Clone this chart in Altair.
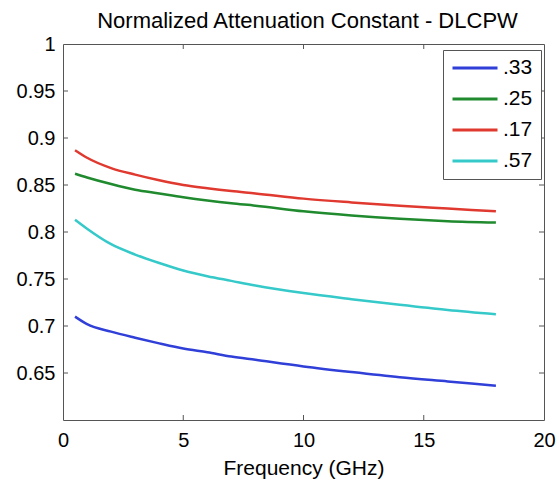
import altair as alt
import pandas as pd

# ---- data ----
freq = [0.5, 1, 2, 3, 4, 5, 6, 7, 8, 10, 12, 14, 16, 18]
s33 = [0.710, 0.702, 0.694, 0.6875, 0.6815, 0.676, 0.672, 0.6675, 0.664, 0.657, 0.651, 0.6455, 0.641, 0.6365]
s25 = [0.862, 0.858, 0.851, 0.845, 0.841, 0.837, 0.8335, 0.8305, 0.828, 0.822, 0.8175, 0.814, 0.8115, 0.810]
s17 = [0.887, 0.879, 0.868, 0.861, 0.855, 0.850, 0.8465, 0.8435, 0.841, 0.8355, 0.8315, 0.828, 0.825, 0.822]
s57 = [0.813, 0.8035, 0.787, 0.776, 0.767, 0.759, 0.753, 0.748, 0.743, 0.735, 0.7285, 0.7225, 0.717, 0.7125]

series_names = [".33", ".25", ".17", ".57"]
series_colors = ["#2f3fd8", "#1f8a2e", "#e0392f", "#35c9c9"]
x_tick_values = [0, 5, 10, 15, 20]
y_tick_values = [0.65, 0.7, 0.75, 0.8, 0.85, 0.9, 0.95, 1]
x_inner_ticks = [5, 10, 15]
y_inner_ticks = [0.65, 0.7, 0.75, 0.8, 0.85, 0.9, 0.95]

rows = []
for name, vals in zip(series_names, [s33, s25, s17, s57]):
    for f, v in zip(freq, vals):
        rows.append({"freq": f, "value": v, "series": name})
df = pd.DataFrame(rows)

W, H = 481, 376
FONT = "Liberation Sans"
TICK = 5
BORDER = "#555555"

xs = alt.Scale(domain=[0, 20], nice=False)
ys = alt.Scale(domain=[0.6, 1], nice=False)

x_axis = alt.Axis(
    values=x_tick_values, format="d", title="Frequency (GHz)",
    ticks=False, domain=False, grid=False, labelPadding=10,
    labelFontSize=20, titleFontSize=21, titleY=54,
    titleBaseline="alphabetic", labelFlush=False, labelOverlap=False)
y_axis = alt.Axis(
    values=y_tick_values, format="~g", title=None,
    ticks=False, domain=False, grid=False, labelPadding=8,
    labelFontSize=20, labelFlush=False, labelOverlap=False)

lines = alt.Chart(df).mark_line(strokeWidth=2.5, interpolate="monotone").encode(
    x=alt.X("freq:Q", scale=xs, axis=x_axis),
    y=alt.Y("value:Q", scale=ys, axis=y_axis),
    color=alt.Color("series:N",
                    scale=alt.Scale(domain=series_names, range=series_colors),
                    sort=series_names,
                    legend=alt.Legend(
                        title=None, orient="none", legendX=380, legendY=6,
                        symbolType="stroke", symbolSize=2025, symbolStrokeWidth=3,
                        labelFontSize=21, labelFont=FONT, labelColor="black",
                        padding=8, clipHeight=20, rowPadding=10, labelOffset=4,
                        strokeColor=BORDER, fillColor="white", cornerRadius=0)),
)

xt = pd.DataFrame({"t": x_inner_ticks})
yt = pd.DataFrame({"t": y_inner_ticks})

bottom_ticks = alt.Chart(xt).mark_rule(color=BORDER, strokeWidth=1).encode(
    x=alt.X("t:Q", scale=xs, axis=x_axis), y=alt.value(H), y2=alt.value(H - TICK))
top_ticks = alt.Chart(xt).mark_rule(color=BORDER, strokeWidth=1).encode(
    x=alt.X("t:Q", scale=xs, axis=x_axis), y=alt.value(0), y2=alt.value(TICK))
left_ticks = alt.Chart(yt).mark_rule(color=BORDER, strokeWidth=1).encode(
    y=alt.Y("t:Q", scale=ys, axis=y_axis), x=alt.value(0), x2=alt.value(TICK))
right_ticks = alt.Chart(yt).mark_rule(color=BORDER, strokeWidth=1).encode(
    y=alt.Y("t:Q", scale=ys, axis=y_axis), x=alt.value(W), x2=alt.value(W - TICK))

chart = alt.layer(lines, bottom_ticks, top_ticks, left_ticks, right_ticks).properties(
    width=W, height=H,
    title=alt.TitleParams("Normalized Attenuation Constant - DLCPW", fontSize=22,
                          font=FONT, fontWeight="normal", anchor="middle",
                          frame="group", baseline="alphabetic", offset=-16, dx=4,
                          color="black"),
    autosize=alt.AutoSizeParams(type="none"),
    padding={"left": 63, "top": 44, "right": 15, "bottom": 62},
    background="white",
).configure_view(stroke=BORDER, strokeWidth=1).configure_axis(
    labelFont=FONT, titleFont=FONT, labelColor="black", titleColor="black",
    titleFontWeight="normal")

chart.save("out.html", embed_options={"renderer": "svg", "actions": False})
